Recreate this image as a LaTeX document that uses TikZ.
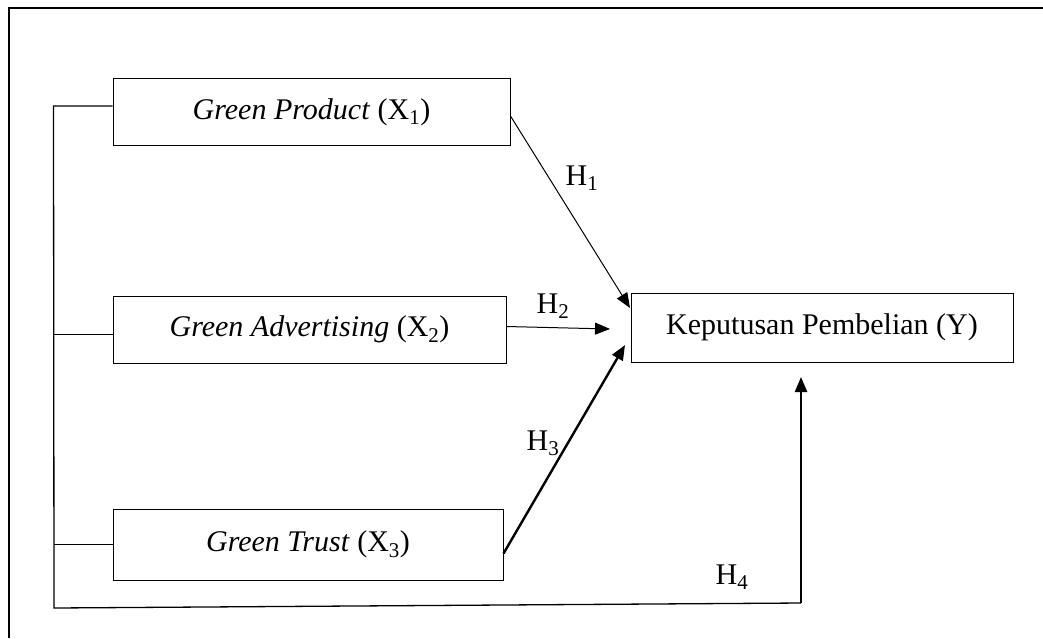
\documentclass[tikz,border=0pt]{standalone}
\usepackage{fontspec}
\setmainfont{Liberation Serif}
\usepackage{tikz}
\usetikzlibrary{positioning,arrows.meta}

\begin{document}
\begin{tikzpicture}[x=1pt,y=-1pt,
    var/.style={draw, line width=1pt, minimum width=#1, minimum height=67pt, inner sep=0pt, font=\fontsize{30}{35}\selectfont},
    hlabel/.style={font=\fontsize{30}{35}\selectfont},
    arr/.style={-{Triangle[length=15pt,width=12pt]}, line width=1pt},
    thickarr/.style={-{Triangle[length=15pt,width=12pt]}, line width=2.4pt}]

    \useasboundingbox (0,0) rectangle (1043,638);
    \draw[line width=1.5pt] (9,638) -- (9,8) -- (1043,8);

    \node[var=397pt] (x1) at (311.5,112) {\textit{Green Product} (X\textsubscript{1})};
    \node[var=393pt] (x2) at (309.5,329.5) {\textit{Green Advertising} (X\textsubscript{2})};
    \node[var=390pt, minimum height=71pt] (x3) at (308,544.5) {\textit{Green Trust} (X\textsubscript{3})};
    \node[var=382pt, minimum height=69pt] (y) at (822,327.5) {Keputusan Pembelian (Y)};

    \coordinate (t1) at (630,308);
    \coordinate (t2) at (610,329);
    \coordinate (t3) at (625,345);
    \coordinate (bl) at (54,608);
    \coordinate (br) at (801,603);
    \coordinate (t4) at (801,377);

    % left bracket
    \draw[line width=1.3pt] ([yshift=6pt]x1.west) -- ++(-59,0) -- (bl) -- (br);
    \draw[line width=1.3pt] ([yshift=-5pt]x2.west) -- ++(-59,0);
    \draw[line width=1.3pt] (x3.west) -- ++(-59,0);

    \draw[arr] ([yshift=-4pt]x1.east) -- (t1);
    \draw[arr] ([yshift=3pt]x2.east) -- (t2);
    \draw[thickarr] ([yshift=-9pt]x3.east) -- (t3);
    \draw[thickarr] (br) -- (t4);

    \node[hlabel] (h1) at (582,178) {H\textsubscript{1}};
    \node[hlabel] (h2) at (553,306) {H\textsubscript{2}};
    \node[hlabel] (h3) at (543,443) {H\textsubscript{3}};
    \node[hlabel] (h4) at (732,577) {H\textsubscript{4}};

\end{tikzpicture}
\end{document}
